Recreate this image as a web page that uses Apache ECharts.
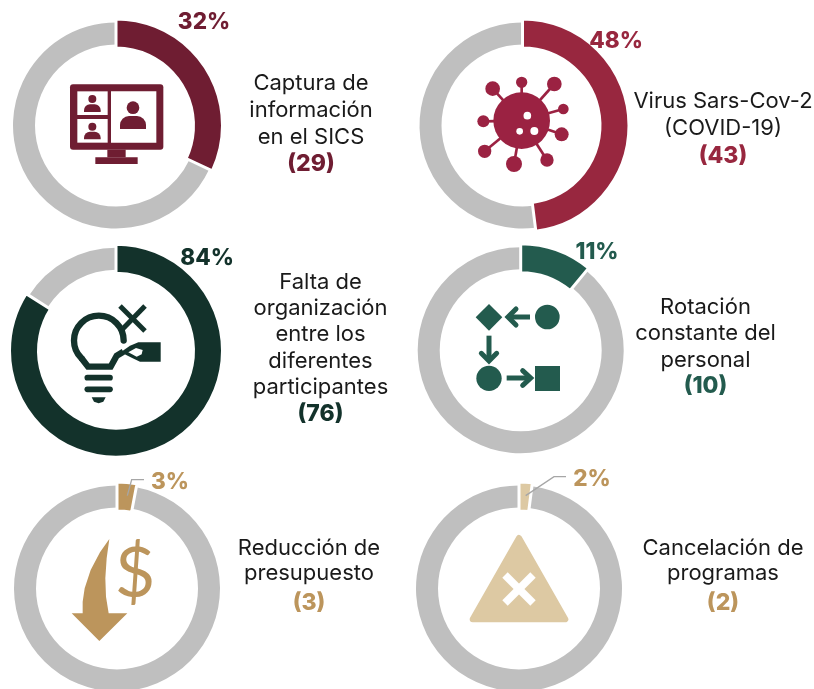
<!DOCTYPE html>
<html>
<head>
<meta charset="utf-8">
<script src="https://cdn.jsdelivr.net/npm/echarts@6/dist/echarts.min.js"></script>
<style>
  html, body { margin: 0; background: #fff; }
  #main { width: 814px; height: 689px; }
</style>
</head>
<body>
<div id="main"></div>
<script>
const captions = [
  'Captura de\ninformación\nen el SICS',
  'Virus Sars-Cov-2\n(COVID-19)',
  'Falta de\norganización\nentre los\ndiferentes\nparticipantes',
  'Rotación\nconstante del\npersonal',
  'Reducción de\npresupuesto',
  'Cancelación de\nprogramas'
];
const percents = [32, 48, 84, 11, 3, 2];
const remainders = [68, 52, 16, 89, 97, 98];
const counts = [29, 43, 76, 10, 3, 2];
const colors = ['#6f1d32', '#98273f', '#13322b', '#235b4e', '#bc955c', '#ddc9a3'];
const labelColors = ['#6f1d32', '#98273f', '#13322b', '#235b4e', '#bc955c', '#bc955c'];

// layout, px
const centers = [[116, 125.5], [522.5, 125.5], [116, 350.7], [520.7, 350.2], [117, 588.4], [519, 588.4]];
const pctPos = [[204, 22], [616, 41], [207, 258], [597, 252], [170, 482], [592, 479]];
const textPos = [[311, 83], [723, 101], [320.5, 282], [705.5, 307], [309, 548], [723, 548]];
const lineHeights = [27, 27.5, 26.4, 26.5, 25, 25];
const countHeights = [27, 27.5, 26.4, 26.5, 35, 35];
const FONT = 'Inter';
const GRAY = '#bfbfbf';

const series = [];
percents.forEach(function (p, i) {
  series.push({
    type: 'pie', silent: true, center: centers[i], radius: [81, 103], label: { show: false }, labelLine: { show: false },
    data: [
      { value: p, itemStyle: { color: 'transparent' } },
      { value: remainders[i], itemStyle: { color: GRAY } }
    ]
  });
  series.push({
    type: 'pie', silent: true, center: centers[i], radius: [77.5, 106.5], avoidLabelOverlap: false,
    labelLine: { show: false },
    label: { show: false },
    labelLayout: function () {
      return { x: pctPos[i][0], y: pctPos[i][1], align: 'center', verticalAlign: 'middle' };
    },
    data: [
      {
        value: p,
        itemStyle: { color: colors[i], borderColor: '#fff', borderWidth: 3 },
        label: {
          show: true, position: 'outside', formatter: '{c}%', color: labelColors[i],
          fontFamily: FONT, fontWeight: 800, fontSize: 22.5
        }
      },
      { value: remainders[i], itemStyle: { color: 'transparent', borderWidth: 0 } }
    ]
  });
});

const titles = captions.map(function (c, i) {
  return {
    text: c + '\n{n|(' + counts[i] + ')}',
    left: textPos[i][0], top: textPos[i][1] - lineHeights[i] / 2, textAlign: 'center', padding: 0,
    textStyle: {
      fontFamily: FONT, fontSize: 22, fontWeight: 400, color: '#1a1a1a', lineHeight: lineHeights[i],
      rich: { n: { fontFamily: FONT, fontSize: 23, fontWeight: 800, color: labelColors[i], lineHeight: countHeights[i] } }
    }
  };
});

// icon drawing, coordinates measured on a 3x crop of each panel
function pen(ox, oy, color) {
  const X = function (v) { return ox + v / 3; };
  const Y = function (v) { return oy + v / 3; };
  const pts = function (a) { return a.map(function (q) { return [X(q[0]), Y(q[1])]; }); };
  return {
    rect: function (x0, y0, x1, y1, r, c) {
      return { type: 'rect', shape: { x: X(x0), y: Y(y0), width: (x1 - x0) / 3, height: (y1 - y0) / 3, r: r || 0 }, style: { fill: c || color } };
    },
    dot: function (x, y, r, c) {
      return { type: 'circle', shape: { cx: X(x), cy: Y(y), r: r / 3 }, style: { fill: c || color } };
    },
    line: function (a, w, cap, c) {
      return { type: 'polyline', shape: { points: pts(a) }, style: { fill: null, stroke: c || color, lineWidth: w / 3, lineCap: cap || 'butt', lineJoin: 'miter' } };
    },
    poly: function (a, c, smooth) {
      return { type: 'polygon', shape: { points: pts(a), smooth: smooth || 0 }, style: { fill: c || color } };
    },
    arc: function (x, y, r, a0, a1, w) {
      return { type: 'arc', shape: { cx: X(x), cy: Y(y), r: r / 3, startAngle: a0, endAngle: a1, clockwise: false }, style: { fill: null, stroke: color, lineWidth: w / 3, lineCap: 'round' } };
    }
  };
}

const icons = [];

// monitor
(function () {
  const p = pen(0, 0, '#6f1d32');
  icons.push(
    p.rect(210, 253, 490, 449, 3),
    p.rect(322, 449, 377, 472),
    p.rect(286, 472, 413, 492),
    p.rect(232, 274, 323, 345, 0, '#fff'),
    p.rect(232, 357, 323, 428, 0, '#fff'),
    p.rect(333, 274, 469, 428, 0, '#fff'),
    p.dot(399, 323, 19),
    p.rect(360, 348, 438, 387, [9, 9, 0, 0]),
    p.dot(277, 297, 12),
    p.rect(252, 313, 302, 336, [6, 6, 0, 0]),
    p.dot(277, 380, 12),
    p.rect(252, 395, 302, 418, [6, 6, 0, 0])
  );
})();

// virus
(function () {
  const p = pen(410, 0, '#9b2242');
  const spikes = [[248, 266, 22], [335, 247, 17], [433, 252, 22], [460, 327, 16], [455, 403, 21], [411, 480, 20], [312, 492, 24], [224, 454, 20], [220, 364, 18]];
  spikes.forEach(function (s) {
    icons.push(p.line([[335, 362], [s[0], s[1]]], 8), p.dot(s[0], s[1], s[2]));
  });
  icons.push(
    p.dot(335, 362, 85),
    p.dot(352, 347, 11.5, '#fff'),
    p.dot(373, 393, 12, '#fff'),
    p.dot(329, 394, 10, '#fff')
  );
})();

// bulb
(function () {
  const p = pen(0, 235, '#13322b');
  icons.push(
    p.arc(296.5, 316.5, 74.5, 0, -Math.PI * 1.25, 19),
    p.line([[244, 369], [264, 395], [332, 395], [350, 362], [370, 350]], 19),
    p.line([[360, 213], [435, 288]], 15),
    p.line([[435, 213], [365, 285]], 15),
    p.poly([[482, 322], [482, 380], [420, 380], [395, 368], [362, 352], [390, 332], [415, 322]]),
    p.poly([[385, 352], [408, 339], [428, 345], [425, 358], [410, 365]], '#fff'),
    p.line([[262, 428], [330, 428]], 17, 'round'),
    p.line([[262, 463], [330, 463]], 17, 'round'),
    p.poly([[275, 487], [317, 487], [310, 500], [296, 505], [282, 500]])
  );
})();

// flow
(function () {
  const p = pen(410, 235, '#235b4e');
  icons.push(
    p.poly([[237, 207], [277, 247], [237, 287], [197, 247]]),
    p.dot(412, 246, 37),
    p.dot(237, 430, 38),
    p.rect(375, 393, 450, 468),
    p.line([[360, 246], [295, 246]], 15),
    p.line([[318, 222], [294, 246], [318, 270]], 15, 'round'),
    p.line([[237, 302], [237, 375]], 15),
    p.line([[214, 355], [237, 378], [260, 355]], 15, 'round'),
    p.line([[290, 429], [358, 429]], 15),
    p.line([[338, 407], [362, 429], [338, 451]], 15, 'round')
  );
})();

// falling arrow and dollar
(function () {
  const p = pen(0, 465, '#bc955c');
  icons.push(
    p.poly([[328, 222], [300, 262], [272, 315], [254, 370], [248, 410], [248, 445], [215, 445], [298, 528], [382, 445], [326, 445], [318, 395], [316, 340], [320, 280]]),
    { type: 'text', style: { text: '$', x: 135, y: 574, align: 'center', verticalAlign: 'middle', fontFamily: 'Lato', fontWeight: 400, fontSize: 70, fill: '#bc955c' } },
    p.line([[382, 92], [395, 44], [432, 44]], 4, 'butt', '#a6a6a6')
  );
})();

// warning triangle
(function () {
  const p = pen(410, 465, '#ddc9a3');
  icons.push(
    { type: 'polygon', shape: { points: [[327, 219], [466, 463], [188, 463]].map(function (q) { return [410 + q[0] / 3, 465 + q[1] / 3]; }) }, style: { fill: '#ddc9a3', stroke: '#ddc9a3', lineWidth: 6, lineJoin: 'round' } },
    p.line([[285, 330], [369, 414]], 23, 'butt', '#fff'),
    p.line([[369, 330], [285, 414]], 23, 'butt', '#fff'),
    p.line([[347, 92], [432, 35], [468, 35]], 4, 'butt', '#a6a6a6')
  );
})();

const chart = echarts.init(document.getElementById('main'));
chart.setOption({
  animation: false,
  backgroundColor: '#fff',
  title: titles,
  series: series,
  graphic: { elements: icons.map(function (e) { e.silent = true; e.z = 10; return e; }) }
});
</script>
</body>
</html>
